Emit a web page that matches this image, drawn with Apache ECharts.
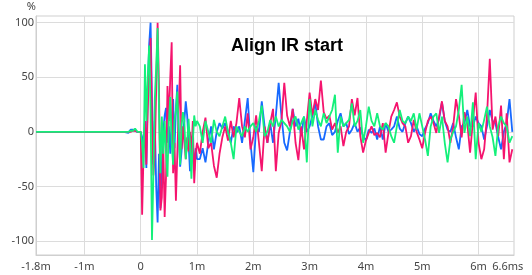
<!DOCTYPE html>
<html><head><meta charset="utf-8">
<script src="https://cdn.jsdelivr.net/npm/echarts@6/dist/echarts.min.js"></script>
<style>html,body{margin:0;padding:0;background:#fff}#c{width:532px;height:275px}</style>
</head><body><div id="c"></div>
<script>
// x positions (ms)
const preTimes = [-1.86, -0.30, -0.22, -0.18, -0.14, -0.10, -0.06, -0.03];
const fineTimes = Array.from({length: 41}, (_, i) => +(i * 0.025).toFixed(3));
const coarseTimes = Array.from({length: 112}, (_, i) => +(1.05 + i * 0.05).toFixed(2));

// tick labels
const xTickValues = [-1, 0, 1, 2, 3, 4, 5, 6];
const xLabelText = {"-1.86": "-1.8m", "-1": "-1m", "0": "0", "1": "1m", "2": "2m", "3": "3m", "4": "4m", "5": "5m", "6": "6m", "6.52": "6.6ms"};
const yTickValues = [-100, -50, 0, 50, 100];

// series values (%)
const preBlue  = [0, 0, -1, 2, 2, 1, 0, 0];
const prePink  = [0, 0, 0, 0, 1, 1, 0, 0];
const preGreen = [0, 0, 0, 1, 1, 3, 0, -1];

const fineBlue = [0, -5, -15, 10, -33, 40, 80, 100, 30, -30, 10, -50, -83, -20, -70, -30, 0, 15, 22, -10,
  5, -20, 10, 30, -15, 20, 43, 0, -32, -18, 0, 10, 28, 15, -10, -36, -20, -10, -36, -15, -25];
const finePink = [0, -76, -20, 10, -30, 20, 60, 86, 10, -40, -20, 40, 100, 40, -72, -60, -10, -78, -40, 42,
  10, 50, 82, -38, -10, -63, -20, 20, 61, -16, 5, -10, -25, -5, -18, 0, -20, 10, -47, -20, -10];
const fineGreen = [0, -10, -33, 62, 10, 50, 79, 20, -99, -40, 30, 60, 95, 20, -38, 14, -20, 10, -20, -41,
  10, 32, -10, -30, 10, 20, 37, 0, -30, 5, 18, 10, -25, -10, 12, -10, -43, -10, 15, 5, 10];

const coarseBlue = [-25, -15, -28, -10, 5, -16, 0, 8, 3, 8,
  0, -10, 5, -1, 5, -10, 10, 31, -10, -37,
  5, 0, 28, 5, -10, 8, -10, 15, 45, 14,
  -10, -17, 0, 21, 5, 12, -4, 14, 0, 5,
  15, 27, 5, -7, -7, 5, 8, -3, 0, 10,
  17, 5, 8, -2, 2, 8, 0, 4, -4, -8,
  2, -1, 3, -7, 5, -7, 8, 0, 2, 5,
  14, 3, 0, 8, 14, 8, 0, 5, -2, -4,
  3, 8, 17, 10, 5, 12, 27, 10, 2, 0,
  8, -5, -16, 5, 8, 20, 5, 5, 14, 8,
  5, -7, 5, 20, 10, 8, -5, -16, 0, 8,
  30, 0];
const coarsePink = [-20, 0, 13, -15, -10, -31, -42, -20, -5, 5,
  -8, 10, -5, 8, 31, 5, -5, 17, -16, -5,
  15, -10, -36, 5, -10, 8, 21, -36, -1, 10,
  45, 15, 5, 21, -10, -26, 5, -16, 10, 36,
  15, 30, 20, 47, 18, 12, 15, 2, 8, -1,
  5, -13, 0, 5, 30, 15, 31, -4, -19, -8,
  -1, 5, -3, -1, -5, 8, -19, -1, 14, 20,
  27, 14, 8, 5, -10, -4, 11, 0, -7, -15,
  -1, 10, 14, 8, -1, 14, 28, 10, 5, -10,
  5, 30, 15, -5, 18, 8, -19, 10, 36, -10,
  -25, -16, 14, 67, 2, 14, -4, 24, -25, 17,
  -28, -16];
const coarseGreen = [5, -10, 10, 0, -10, 11, 0, -4, 5, 14,
  0, -10, -25, 5, 0, -4, 5, 0, 5, 8,
  0, 10, 24, -4, 0, 11, 5, 14, 5, 11,
  8, 5, 0, 10, 14, 2, 8, 14, -28, 30,
  5, 20, 11, 5, 17, 8, 14, 20, 34, -19,
  14, 5, 8, 11, 26, 5, 10, 20, -10, 5,
  23, 10, 5, 17, 5, 2, 8, 5, -4, -10,
  5, 20, 10, 8, 14, 10, 17, 2, 17, 5,
  -7, -22, 5, 14, 17, -1, 14, -10, -28, -7,
  0, 5, 20, 43, -1, 14, -4, 27, -25, 8,
  0, 11, 23, 5, -5, -22, 5, 14, 8, 5,
  -10, -4];

const times = preTimes.concat(fineTimes, coarseTimes);
const blue = preBlue.concat(fineBlue, coarseBlue);
const pink = prePink.concat(finePink, coarsePink);
const green = preGreen.concat(fineGreen, coarseGreen);
const pair = vals => times.map((t, i) => [t, vals[i]]);

const chart = echarts.init(document.getElementById('c'), null, {renderer: 'canvas'});
const lineSeries = (name, vals, color) => ({
  name, type: 'line', data: pair(vals), showSymbol: false, symbol: 'none',
  lineStyle: {color, width: 1.8}, itemStyle: {color}, animation: false
});
chart.setOption({
  animation: false,
  title: {
    text: 'Align IR start', left: 231, top: 37, padding: 0,
    textStyle: {fontFamily: 'Liberation Sans', fontSize: 18, fontWeight: 'bold', color: '#000'}
  },
  grid: {left: 36, right: 18, top: 16, bottom: 20, show: true, borderColor: '#cfcfcf', borderWidth: 1},
  xAxis: {
    type: 'value', min: -1.86, max: 6.63,
    axisLine: {show: true, onZero: false, lineStyle: {color: '#cfcfcf'}},
    axisTick: {show: false, customValues: xTickValues},
    splitLine: {show: true, lineStyle: {color: '#dcdcdc', width: 1}},
    axisLabel: {
      customValues: [-1.86, -1, 0, 1, 2, 3, 4, 5, 6, 6.52],
      formatter: v => xLabelText[String(+v.toFixed(2))] ?? '',
      color: '#444', fontFamily: 'Noto Sans', fontSize: 11, margin: 6
    }
  },
  yAxis: {
    type: 'value', min: -112.8, max: 106.1,
    name: '%', nameLocation: 'end', nameGap: 4,
    nameTextStyle: {align: 'right', verticalAlign: 'bottom', color: '#444', fontFamily: 'Noto Sans', fontSize: 11},
    axisLine: {show: true, onZero: false, lineStyle: {color: '#cfcfcf'}},
    axisTick: {show: false, customValues: yTickValues},
    splitLine: {show: true, lineStyle: {color: '#dcdcdc', width: 1}},
    axisLabel: {
      customValues: yTickValues,
      color: '#444', fontFamily: 'Noto Sans', fontSize: 11, margin: 2
    }
  },
  series: [
    lineSeries('blue', blue, '#1769ff'),
    lineSeries('pink', pink, '#f5146e'),
    lineSeries('green', green, '#14f07a')
  ]
});
</script>
</body></html>
